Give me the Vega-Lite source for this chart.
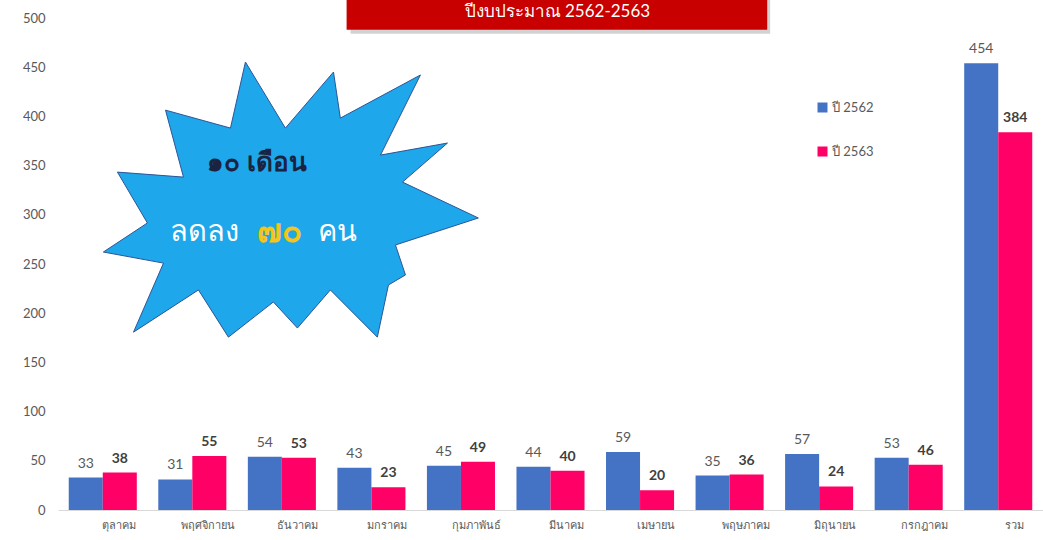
{
  "$schema": "https://vega.github.io/schema/vega-lite/v6.json",
  "autosize": {"type": "none"},
  "width": 985,
  "height": 492,
  "padding": {"left": 58, "top": 18, "right": 0, "bottom": 30},
  "background": "white",
  "config": {"view": {"stroke": null}, "font": "Lato"},
  "layer": [
    {
      "data": {"values": [
        {"month": "ตุลาคม", "series": "ปี 2562", "value": 33},
        {"month": "ตุลาคม", "series": "ปี 2563", "value": 38},
        {"month": "พฤศจิกายน", "series": "ปี 2562", "value": 31},
        {"month": "พฤศจิกายน", "series": "ปี 2563", "value": 55},
        {"month": "ธันวาคม", "series": "ปี 2562", "value": 54},
        {"month": "ธันวาคม", "series": "ปี 2563", "value": 53},
        {"month": "มกราคม", "series": "ปี 2562", "value": 43},
        {"month": "มกราคม", "series": "ปี 2563", "value": 23},
        {"month": "กุมภาพันธ์", "series": "ปี 2562", "value": 45},
        {"month": "กุมภาพันธ์", "series": "ปี 2563", "value": 49},
        {"month": "มีนาคม", "series": "ปี 2562", "value": 44},
        {"month": "มีนาคม", "series": "ปี 2563", "value": 40},
        {"month": "เมษายน", "series": "ปี 2562", "value": 59},
        {"month": "เมษายน", "series": "ปี 2563", "value": 20},
        {"month": "พฤษภาคม", "series": "ปี 2562", "value": 35},
        {"month": "พฤษภาคม", "series": "ปี 2563", "value": 36},
        {"month": "มิถุนายน", "series": "ปี 2562", "value": 57},
        {"month": "มิถุนายน", "series": "ปี 2563", "value": 24},
        {"month": "กรกฎาคม", "series": "ปี 2562", "value": 53},
        {"month": "กรกฎาคม", "series": "ปี 2563", "value": 46},
        {"month": "รวม", "series": "ปี 2562", "value": 454},
        {"month": "รวม", "series": "ปี 2563", "value": 384}
      ]},
      "encoding": {
        "x": {
          "field": "month", "type": "nominal", "sort": null,
          "scale": {"paddingInner": 0.24, "paddingOuter": 0.12},
          "axis": {"title": null, "labelAngle": 0, "labelOffset": 16, "labelFontSize": 11, "labelColor": "#595959", "ticks": false, "domainColor": "#d9d9d9", "labelPadding": 9}
        },
        "xOffset": {"field": "series", "type": "nominal", "scale": {"paddingInner": 0}},
        "y": {
          "field": "value", "type": "quantitative",
          "scale": {"domain": [0, 500], "nice": false},
          "axis": {"title": null, "values": [0, 50, 100, 150, 200, 250, 300, 350, 400, 450, 500], "grid": false, "domain": false, "ticks": false, "labelPadding": 13, "labelFontSize": 13, "labelColor": "#595959"}
        }
      },
      "layer": [
        {
          "mark": {"type": "bar"},
          "encoding": {
            "color": {
              "field": "series", "type": "nominal",
              "scale": {"range": ["#4472C4", "#FF0066"]},
              "legend": {"title": null, "orient": "none", "legendX": 758, "legendY": 83, "symbolType": "square", "symbolSize": 100, "labelFontSize": 13, "labelColor": "#595959", "rowPadding": 30, "labelOffset": 3}
            }
          }
        },
        {
          "transform": [{"filter": "datum.series === 'ปี 2562'"}],
          "mark": {"type": "text", "baseline": "bottom", "dy": -7, "fontSize": 14, "color": "#595959"},
          "encoding": {"text": {"field": "value"}}
        },
        {
          "transform": [{"filter": "datum.series === 'ปี 2563'"}],
          "mark": {"type": "text", "baseline": "bottom", "dy": -7, "fontSize": 14, "fontWeight": "bold", "color": "#404040"},
          "encoding": {"text": {"field": "value"}}
        }
      ]
    },
    {
      "data": {"values": [{"x": 29.7, "x2": 72.3, "y": 484, "y2": 528}]},
      "mark": {"type": "rect", "color": "#7f7f7f", "opacity": 0.35},
      "encoding": {
        "x": {"field": "x", "type": "quantitative", "scale": {"domain": [0, 100]}, "axis": null},
        "x2": {"field": "x2"},
        "y": {"field": "y", "type": "quantitative"},
        "y2": {"field": "y2"}
      }
    },
    {
      "data": {"values": [{"x": 29.3, "x2": 72.0, "y": 488, "y2": 530}]},
      "mark": {"type": "rect", "color": "#C80000"},
      "encoding": {
        "x": {"field": "x", "type": "quantitative", "scale": {"domain": [0, 100]}, "axis": null},
        "x2": {"field": "x2"},
        "y": {"field": "y", "type": "quantitative"},
        "y2": {"field": "y2"}
      }
    },
    {
      "data": {"values": [{"x": 50.7, "y": 506, "label": "ปีงบประมาณ 2562-2563"}]},
      "mark": {"type": "text", "color": "white", "fontSize": 17, "baseline": "middle"},
      "encoding": {
        "x": {"field": "x", "type": "quantitative", "scale": {"domain": [0, 100]}, "axis": null},
        "y": {"field": "y", "type": "quantitative"},
        "text": {"field": "label"}
      }
    },
    {
      "data": {"values": [{"x": 23.8, "y": 315}]},
      "mark": {
        "type": "point", "filled": true, "size": 136900, "fill": "#1EA7EA", "stroke": "#2E5597", "strokeWidth": 1, "opacity": 1, "fillOpacity": 1,
        "shape": "M-0.254,-0.746L-0.038,-0.389L0.222,-0.692L0.259,-0.443L0.692,-0.676L0.476,-0.243L0.838,-0.308L0.595,-0.097L1.005,0.097L0.557,0.243L0.611,0.405L0.519,0.459L0.459,0.741L0.205,0.486L0.027,0.692L-0.103,0.551L-0.346,0.741L-0.508,0.486L-0.859,0.714L-0.697,0.341L-1.022,0.281L-0.784,0.124L-0.946,-0.151L-0.589,-0.124L-0.686,-0.486L-0.335,-0.389Z"
      },
      "encoding": {
        "x": {"field": "x", "type": "quantitative", "scale": {"domain": [0, 100]}, "axis": null},
        "y": {"field": "y", "type": "quantitative"}
      }
    },
    {
      "data": {"values": [{"x": 20.2, "y": 352.6, "label": "๑๐ เดือน"}]},
      "mark": {"type": "text", "color": "#1A2340", "fontSize": 26, "fontWeight": "bold", "baseline": "middle"},
      "encoding": {
        "x": {"field": "x", "type": "quantitative", "scale": {"domain": [0, 100]}, "axis": null},
        "y": {"field": "y", "type": "quantitative"},
        "text": {"field": "label"}
      }
    },
    {
      "data": {"values": [{"x": 14.9, "y": 282.5, "label": "ลดลง"}, {"x": 28.4, "y": 282.5, "label": "คน"}]},
      "mark": {"type": "text", "color": "white", "fontSize": 29, "baseline": "middle"},
      "encoding": {
        "x": {"field": "x", "type": "quantitative", "scale": {"domain": [0, 100]}, "axis": null},
        "y": {"field": "y", "type": "quantitative"},
        "text": {"field": "label"}
      }
    },
    {
      "data": {"values": [{"x": 22.5, "y": 282.5, "label": "๗๐"}]},
      "mark": {"type": "text", "color": "#F5C518", "fontSize": 33, "fontWeight": "bold", "baseline": "middle"},
      "encoding": {
        "x": {"field": "x", "type": "quantitative", "scale": {"domain": [0, 100]}, "axis": null},
        "y": {"field": "y", "type": "quantitative"},
        "text": {"field": "label"}
      }
    }
  ],
  "resolve": {"scale": {"x": "independent"}}
}
